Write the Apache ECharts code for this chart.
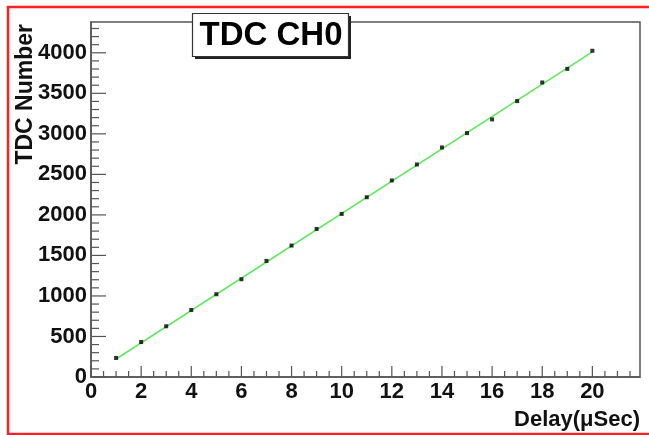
<!DOCTYPE html>
<html>
<head>
<meta charset="utf-8">
<script src="https://cdn.jsdelivr.net/npm/echarts@6/dist/echarts.min.js"></script>
<style>
  html, body { margin: 0; padding: 0; background: #fff; }
  #myChart { width: 649px; height: 435px; }
</style>
</head>
<body>
<div id="myChart"></div>
<script>
// delay in µs and measured TDC counts
const delay = [1, 2, 3, 4, 5, 6, 7, 8, 9, 10, 11, 12, 13, 14, 15, 16, 17, 18, 19, 20];
const tdc = [235, 432, 626, 827, 1021, 1206, 1432, 1622, 1827, 2012, 2218, 2425, 2622, 2832, 3009, 3178, 3404, 3634, 3802, 4025];
// straight-line fit, drawn between its two ends
const fitX = [1, 20];
const fitY = [222, 4012];
// tick labels
const xTicks = [0, 2, 4, 6, 8, 10, 12, 14, 16, 18, 20];
const yTicks = [0, 500, 1000, 1500, 2000, 2500, 3000, 3500, 4000];

const xMax = 21.9, yMax = 4380;
const font = "Liberation Sans, Arial, Helvetica, sans-serif";
const axisColor = "#555";

// tick marks (major + minor) drawn through the axes' own scales
let xTickData = [], yTickData = [];
for (let v = 0; v <= xMax; v += 0.5) xTickData.push([v, 0, v % 2 === 0 ? 11 : 6]);
for (let v = 0; v <= yMax; v += 100) yTickData.push([0, v, v % 500 === 0 ? 15 : 8]);

function tickSeries(data, vertical) {
  return {
    type: "custom",
    silent: true,
    data: data,
    z: 5,
    renderItem: function (params, api) {
      let p = api.coord([api.value(0), api.value(1)]);
      let len = api.value(2);
      return {
        type: "line",
        shape: vertical
          ? { x1: p[0], y1: p[1], x2: p[0], y2: p[1] - len }
          : { x1: p[0], y1: p[1], x2: p[0] + len, y2: p[1] },
        style: { stroke: axisColor, lineWidth: 1.2 }
      };
    }
  };
}

let chart = echarts.init(document.getElementById("myChart"));
chart.setOption({
  animation: false,
  grid: {
    left: 91, right: 9, top: 22, bottom: 58,
    show: true, borderColor: axisColor, borderWidth: 1.5
  },
  xAxis: {
    type: "value",
    min: 0, max: xMax, interval: 2,
    axisLine: { show: true, lineStyle: { color: axisColor, width: 1.5 } },
    axisTick: { show: false },
    splitLine: { show: false },
    axisLabel: {
      showMaxLabel: false, margin: 4,
      formatter: v => (xTicks.indexOf(v) >= 0 ? String(v) : ""),
      fontFamily: font, fontWeight: "bold", fontSize: 22, color: "#111"
    }
  },
  yAxis: {
    type: "value",
    min: 0, max: yMax, interval: 500,
    axisLine: { show: true, lineStyle: { color: axisColor, width: 1.5 } },
    axisTick: { show: false },
    splitLine: { show: false },
    axisLabel: {
      showMaxLabel: false, margin: 4,
      formatter: v => (yTicks.indexOf(v) >= 0 ? String(v) : ""),
      fontFamily: font, fontWeight: "bold", fontSize: 22, color: "#111"
    }
  },
  series: [
    tickSeries(xTickData, true),
    tickSeries(yTickData, false),
    {
      type: "line",
      data: fitX.map((x, i) => [x, fitY[i]]),
      showSymbol: false,
      lineStyle: { color: "#5fe85f", width: 1.6 },
      z: 2
    },
    {
      type: "scatter",
      data: delay.map((x, i) => [x, tdc[i]]),
      symbol: "rect",
      symbolSize: 4,
      itemStyle: { color: "#000" },
      z: 3
    }
  ],
  graphic: [
    // red outer frame
    {
      type: "rect", silent: true, z: 100,
      shape: { x: 8, y: 7, width: 660, height: 427 },
      style: { fill: "none", stroke: "#ff2020", lineWidth: 2.5 }
    },
    // title box with shadow
    {
      type: "rect", z: 100,
      shape: { x: 195, y: 16, width: 156, height: 43 },
      style: { fill: "#222" }
    },
    {
      type: "rect", z: 101,
      shape: { x: 192.5, y: 13.5, width: 156, height: 43 },
      style: { fill: "#fff", stroke: "#333", lineWidth: 1.2 }
    },
    {
      type: "text", z: 102,
      x: 271, y: 36,
      style: {
        text: "TDC CH0", fontFamily: font, fontWeight: "bold", fontSize: 33,
        fill: "#000", align: "center", verticalAlign: "middle"
      }
    },
    // axis titles
    {
      type: "text", z: 102,
      x: 640, y: 420,
      style: {
        text: "Delay(μSec)", fontFamily: font, fontWeight: "bold", fontSize: 22,
        fill: "#111", align: "right", verticalAlign: "middle"
      }
    },
    {
      type: "text", z: 102,
      x: 26, y: 24, rotation: Math.PI / 2,
      style: {
        text: "TDC Number", fontFamily: font, fontWeight: "bold", fontSize: 23,
        fill: "#111", align: "right", verticalAlign: "middle"
      }
    }
  ]
});
</script>
</body>
</html>
